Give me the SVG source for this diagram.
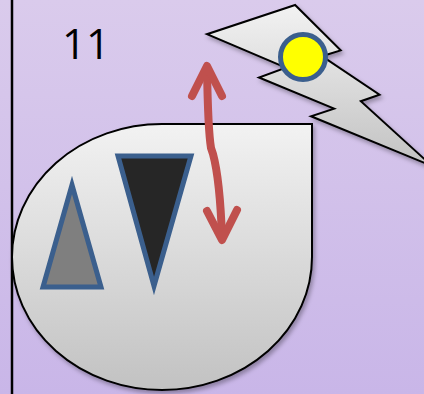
<svg xmlns="http://www.w3.org/2000/svg" width="424" height="394" viewBox="0 0 424 394">
<style>
.outline{stroke:#000;stroke-width:2;stroke-linejoin:miter}
.tri{stroke:#3b5f8d;stroke-width:5;stroke-linejoin:miter}
.arrow{fill:none;stroke:#c0504d;stroke-width:8;stroke-linecap:round;stroke-linejoin:round}
.label{font-family:"Open Sans","Noto Sans",sans-serif;font-size:42px;fill:#000}
</style>
<defs>
<linearGradient id="bg" x1="0" y1="0" x2="0" y2="1">
<stop offset="0" stop-color="#dacbec"/>
<stop offset="1" stop-color="#c9b6e8"/>
</linearGradient>
<linearGradient id="gray" x1="0" y1="0" x2="0" y2="1">
<stop offset="0" stop-color="#f2f2f2"/>
<stop offset="1" stop-color="#c2c2c2"/>
</linearGradient>
<filter id="sh" x="-10%" y="-10%" width="130%" height="130%">
<feDropShadow dx="2" dy="3" stdDeviation="2" flood-color="#000" flood-opacity="0.3"/>
</filter>
</defs>
<rect x="0" y="0" width="424" height="394" fill="url(#bg)"/>
<line x1="12" y1="0" x2="12" y2="394" stroke="#000" stroke-width="2.5"/>
<g id="label11">
<text class="label" x="86" y="59" text-anchor="middle">11</text>
</g>
<g id="teardrop">
<path class="outline" fill="url(#gray)" filter="url(#sh)" d="M12,257 A150,133 0 0 1 162,124 L312,124 L312,257 A150,133 0 0 1 162,390 A150,133 0 0 1 12,257 Z"/>
</g>
<g id="smallTriangle">
<polygon class="tri" fill="#7f7f7f" points="72,185 43,287 101,287"/>
</g>
<g id="bigTriangle">
<polygon class="tri" fill="#262626" points="118,156 191,156 154,286"/>
</g>
<g id="lightning">
<path class="outline" fill="url(#gray)" filter="url(#sh)" d="M295.1,5 L207,34.2 L285.8,67.7 L259,77.5 L334.1,108.6 L311,116.3 L432,166 L360.8,101.2 L379.5,94.6 L321.9,56.2 L340.7,50.4 Z"/>
<circle cx="303" cy="57" r="22.5" fill="#ffff00" stroke="#3b5f8d" stroke-width="5"/>
</g>
<g id="connectors">
<path class="arrow" d="M207,68 Q208,130 211,148 L213,154 Q220,180 222,238"/>
<polyline class="arrow" points="192,96 207,66 222,96"/>
<polyline class="arrow" points="207,211 222,240 237,210"/>
</g>
</svg>
